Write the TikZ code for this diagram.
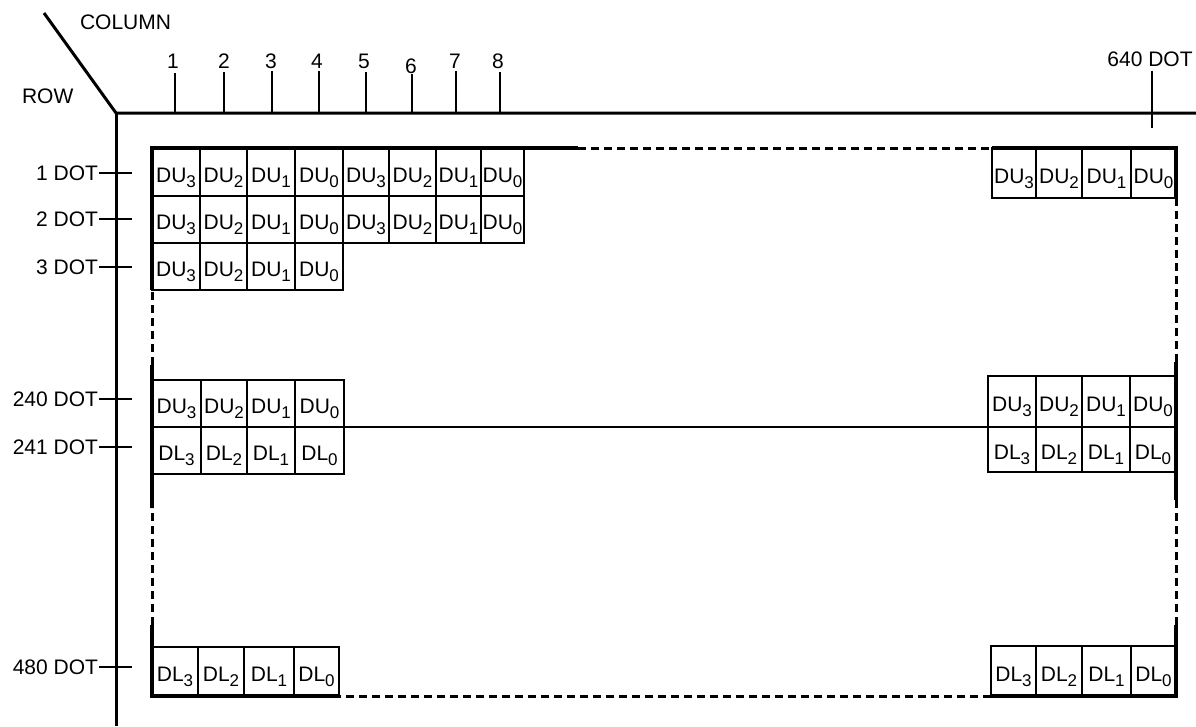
\documentclass[tikz,border=0pt]{standalone}
\usepackage{fontspec}
\setmainfont{Liberation Sans}
\newcommand\sbx[1]{\raisebox{-5pt}{\fontsize{17}{17}\selectfont #1}}
\newcommand\cellrow[4]{%
  \foreach \xa/\xb/\l/\d [count=\i] in {#4} {
    \node[cell, minimum width={(\xb-\xa)*1pt}, minimum height={(#3-#2)*1pt}]
      (#1\i) at ({(\xa+\xb)/2},{(#2+#3)/2}) {\l\sbx{\d}};
  }}
\tikzset{
  cell/.style={draw, line width=1.2pt, inner sep=0pt, outer sep=0pt, text height=20pt, text depth=0pt},
  axis/.style={line width=3pt},
  border/.style={line width=3.4pt},
  gap/.style={line width=3pt, dash pattern=on 8pt off 5pt},
  tick/.style={line width=1.4pt},
  lab/.style={inner sep=0pt, outer sep=0pt},
}
\begin{document}
\begin{tikzpicture}[x=1pt, y=-1pt, font=\fontsize{21}{25}\selectfont]
\useasboundingbox (0,0) rectangle (1196,726);

% axes
\coordinate (diagTop) at (44,13);
\coordinate (corner) at (116,113);
\coordinate (axR) at (1196,113);
\coordinate (axB) at (116,726);
\draw[axis] (diagTop) -- (corner) -- (axR);
\draw[axis] (corner) -- (axB);

\node[lab, anchor=base west] (colTitle) at (80,29) {COLUMN};
\node[lab, anchor=base west] (rowTitle) at (22,103) {ROW};

% column ticks
\foreach \x/\lx/\yt/\n/\yl in {175/173/73/1/68, 224/224/72/2/68, 272/271/71/3/68, 319/317/71/4/68,
    366/364/72/5/68, 412/411/74/6/73, 456/455/71/7/68, 500/498/72/8/68} {
  \node[lab, anchor=base] (col\n) at (\lx,\yl) {\n};
  \coordinate (colT\n) at (\x,\yt);
  \coordinate (colB\n) at (\x,113);
  \draw[tick] (colT\n) -- (colB\n);
}
\node[lab, anchor=base] (col640) at (1150,66) {640 DOT};
\coordinate (c640T) at (1152,71);
\coordinate (c640B) at (1152,128);
\draw[tick] (c640T) -- (c640B);

% row ticks
\foreach \y/\t [count=\i] in {173/1 DOT, 219/2 DOT, 267/3 DOT, 399/240 DOT, 447/241 DOT, 667/480 DOT} {
  \node[lab, anchor=base east] (row\i) at (98,\y+7.5) {\t};
  \coordinate (rowA\i) at (99,\y);
  \coordinate (rowB\i) at (132,\y);
  \draw[tick] (rowA\i) -- (rowB\i);
}

% cells
\cellrow{ra}{148}{196}{152/200/DU/3, 200/247/DU/2, 247/295/DU/1, 295/343/DU/0, 343/389/DU/3, 389/436/DU/2, 436/481/DU/1, 481/524/DU/0}
\cellrow{rb}{196}{243}{152/200/DU/3, 200/247/DU/2, 247/295/DU/1, 295/343/DU/0, 343/389/DU/3, 389/436/DU/2, 436/481/DU/1, 481/524/DU/0}
\cellrow{rc}{243}{290}{152/200/DU/3, 200/247/DU/2, 247/295/DU/1, 295/343/DU/0}
\cellrow{tr}{148}{198}{992/1036/DU/3, 1036/1082/DU/2, 1082/1131/DU/1, 1131/1176/DU/0}
\cellrow{mlu}{380}{427}{152/201/DU/3, 201/247/DU/2, 247/295/DU/1, 295/344/DU/0}
\cellrow{mll}{427}{474}{152/201/DL/3, 201/247/DL/2, 247/295/DL/1, 295/344/DL/0}
\cellrow{mru}{376}{427}{988/1036/DU/3, 1036/1082/DU/2, 1082/1130/DU/1, 1130/1176/DU/0}
\cellrow{mrl}{427}{472}{988/1036/DL/3, 1036/1082/DL/2, 1082/1130/DL/1, 1130/1176/DL/0}
\cellrow{bl}{647}{696}{152/198/DL/3, 198/244/DL/2, 244/294/DL/1, 294/339/DL/0}
\cellrow{br}{646}{696}{991/1036/DL/3, 1036/1082/DL/2, 1082/1131/DL/1, 1131/1176/DL/0}

\draw[line width=1.2pt] (mlu4.south east) -- (mru1.south west);

% screen border
\coordinate (TL) at (152,148);
\coordinate (TR) at (1176,148);
\coordinate (BR) at (1176,696);
\coordinate (BL) at (152,696);
\draw[border] (578,148) -- (TL) -- (152,290);
\draw[gap] (578,148) -- (992,148);
\draw[border] (992,148) -- (TR) -- (1176,198);
\draw[gap] (1176,198) -- (1176,362);
\draw[border] (1176,362) -- (1176,500);
\draw[gap] (1176,500) -- (1176,625);
\draw[border] (1176,625) -- (BR) -- (991,696);
\draw[gap] (991,696) -- (339,696);
\draw[border] (339,696) -- (BL) -- (152,625);
\draw[gap] (152,625) -- (152,508);
\draw[border] (152,508) -- (152,365);
\draw[gap] (152,365) -- (152,290);
\end{tikzpicture}
\end{document}
